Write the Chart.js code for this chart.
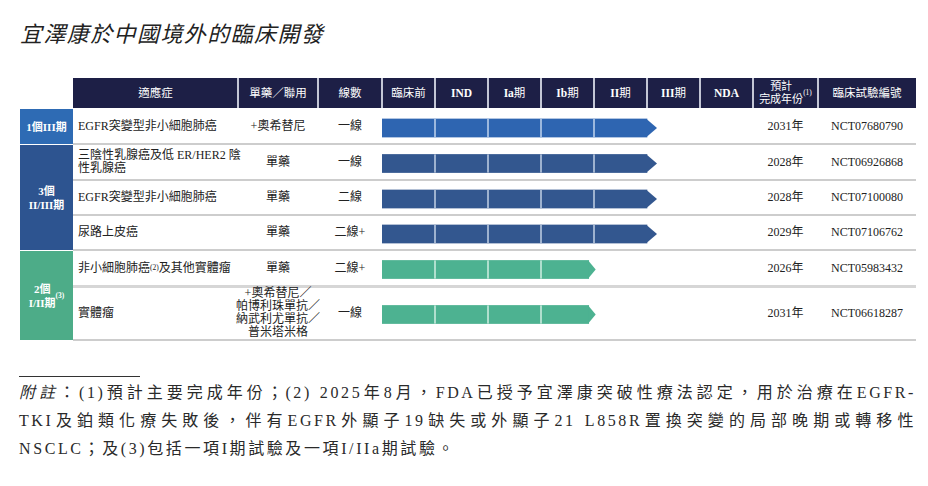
<!DOCTYPE html>
<html>
<head>
<meta charset="utf-8">
<script src="https://cdn.jsdelivr.net/npm/chart.js@4.4.1/dist/chart.umd.min.js"></script>
<style>
html,body{margin:0;padding:0;background:#fff;}
#page{position:relative;width:928px;height:486px;overflow:hidden;font-family:"Liberation Serif","Noto Sans CJK TC",serif;color:#222;}
.abs{position:absolute;}
.cell{position:absolute;display:flex;align-items:center;font-size:12px;line-height:13px;box-sizing:border-box;white-space:nowrap;}
.c{justify-content:center;text-align:center;}
.hd{color:#fff;font-size:11.5px;}
.grp{color:#fff;font-weight:bold;font-size:11px;line-height:14px;}
sup{font-size:7.5px;line-height:0;vertical-align:4px;}
#title{position:absolute;left:20px;top:19px;font-family:"Noto Sans CJK TC",sans-serif;font-style:italic;font-size:22px;line-height:26px;letter-spacing:1.4px;color:#222;white-space:nowrap;}
#foot{position:absolute;left:19px;top:379px;width:897px;font-size:16px;line-height:28px;color:#2a2a2a;letter-spacing:2.6px;}
#foot div{text-align:justify;text-align-last:justify;white-space:nowrap;}
#foot div.last{text-align:left;text-align-last:left;}
</style>
</head>
<body>
<div id="page">
  <div id="title">宜澤康於中國境外的臨床開發</div>
  <div id="table"></div>
  <div id="chartBox" class="abs"><canvas id="c"></canvas></div>
  <div class="abs" style="left:19px;top:376px;width:121px;height:1px;background:#333;"></div>
  <div id="foot">
    <div><i>附註</i>：(1)預計主要完成年份；(2) 2025年8月，FDA已授予宜澤康突破性療法認定，用於治療在EGFR-</div>
    <div>TKI及鉑類化療失敗後，伴有EGFR外顯子19缺失或外顯子21 L858R置換突變的局部晚期或轉移性</div>
    <div class="last">NSCLC；及(3)包括一項I期試驗及一項I/IIa期試驗。</div>
  </div>
</div>
<script>
// ---------- data ----------
const phases = ['臨床前','IND','Ia期','Ib期','II期','III期','NDA'];
const groupLabels = ['1個III期','3個\nII/III期','2個\nI/II期(3)'];
const groupOfRow = [0,1,1,1,2,2];
const indications = ['EGFR突變型非小細胞肺癌','三陰性乳腺癌及低 ER/HER2 陰\n性乳腺癌','EGFR突變型非小細胞肺癌','尿路上皮癌','非小細胞肺癌(2)及其他實體瘤','實體瘤'];
const regimens = ['+奧希替尼','單藥','單藥','單藥','單藥','+奧希替尼／\n帕博利珠單抗／\n納武利尤單抗／\n普米塔米格'];
const therapyLines = ['一線','一線','二線','二線+','二線+','一線'];
const phaseReached = [5,5,5,5,3.9,3.9];
const completionYears = ['2031年','2028年','2028年','2029年','2026年','2031年'];
const trialIds = ['NCT07680790','NCT06926868','NCT07100080','NCT07106762','NCT05983432','NCT06618287'];
const headerLabels = {ind:'適應症', reg:'單藥／聯用', line:'線數', year:'預計\n完成年份(1)', id:'臨床試驗編號'};

// ---------- layout & style ----------
const L = {left:73,right:916,headTop:78,headH:30,bodyTop:109,labelLeft:20,
  rowH:[35,36,35,35,36,54],
  cols:{ind:[73,238],reg:[238,318],line:[318,382],phase:[382,753],year:[753,818],id:[818,916]}};
const headColor = '#1d1f46';
const groupColors = ['#2e6bb4','#2d5490','#4dac88'];
const barColors = ['#2e65b1','#33578f','#4db291'];
const tipLen = [10,10,7];
const sepColors = ['rgba(220,232,248,0.85)','rgba(220,230,245,0.85)','rgba(225,245,236,0.9)'];

const fmt = s => s.replace(/\((\d)\)/g,'<sup>($1)</sup>').replace(/\n/g,'<br>');
const table = document.getElementById('table');
function add(html, cls, left, top, w, h, extra){
  const d=document.createElement('div'); d.className=cls; d.innerHTML=html;
  d.style.cssText=`left:${left}px;top:${top}px;width:${w}px;height:${h}px;`+(extra||'');
  table.appendChild(d); return d;
}
// rows
const rowTops=[]; let acc=0; L.rowH.forEach(h=>{rowTops.push(acc);acc+=h;});
const bodyH=acc;
const rowCenters=rowTops.map((t,i)=>t+L.rowH[i]/2);

// header band
add('','abs',L.left,L.headTop,L.right-L.left,L.headH,`background:${headColor};`);
['ind','reg','line','year','id'].forEach(k=>{
  const [a,b]=L.cols[k];
  add(fmt(headerLabels[k]),'cell c hd',a,L.headTop,b-a,L.headH, k==='year'?'font-size:11px;line-height:13px;':'');
});

// group label cells
groupLabels.forEach((g,gi)=>{
  const rows=groupOfRow.map((v,i)=>v===gi?i:-1).filter(i=>i>=0);
  const top=L.bodyTop+rowTops[rows[0]]+(gi>0?1:0);
  const bot=L.bodyTop+rowTops[rows[rows.length-1]]+L.rowH[rows[rows.length-1]];
  add(fmt(g),'cell c grp',L.labelLeft,top,L.left-L.labelLeft,bot-top,`background:${groupColors[gi]};`);
});

// body cells & separators
indications.forEach((t,i)=>{
  const top=L.bodyTop+rowTops[i], h=L.rowH[i];
  add(fmt(t),'cell',L.cols.ind[0]+5,top,L.cols.ind[1]-L.cols.ind[0]-5,h);
  add(fmt(regimens[i]),'cell c',L.cols.reg[0],top,L.cols.reg[1]-L.cols.reg[0],h, i===5?'line-height:12.8px;':'');
  add(therapyLines[i],'cell c',L.cols.line[0],top,L.cols.line[1]-L.cols.line[0],h);
  add(completionYears[i],'cell c',L.cols.year[0],top,L.cols.year[1]-L.cols.year[0],h);
  add(trialIds[i],'cell c',L.cols.id[0],top,L.cols.id[1]-L.cols.id[0],h);
  const thick = (i===4);
  add('','abs',L.left,top+h-(thick?1.5:1),L.right-L.left,thick?3:1.6,`background:${thick?'#d6d6d6':'#cdcdcd'};`);
});

// ---------- chart ----------
const box=document.getElementById('chartBox');
const pw=L.cols.phase[1]-L.cols.phase[0];
box.style.cssText=`left:${L.cols.phase[0]}px;top:${L.bodyTop}px;width:${pw}px;height:${bodyH}px;`;
const cv=document.getElementById('c');
cv.style.width=pw+'px'; cv.style.height=bodyH+'px'; cv.width=pw; cv.height=bodyH;

const barPlugin={id:'barDeco',afterDatasetsDraw(chart){
  const meta=chart.getDatasetMeta(0), xs=chart.scales.x, c=chart.ctx;
  meta.data.forEach((bar,i)=>{
    const p=bar.getProps(['x','y','base','height'],true);
    const top=p.y-p.height/2, bot=p.y+p.height/2, g=groupOfRow[i];
    c.save();
    c.strokeStyle=sepColors[g]; c.lineWidth=1.5;
    for(let k=1;k<phases.length;k++){
      const px=xs.getPixelForValue(k);
      if(px<p.x-1){c.beginPath();c.moveTo(px,top);c.lineTo(px,bot);c.stroke();}
    }
    c.fillStyle=barColors[g];
    c.beginPath();c.moveTo(p.x-0.5,top);c.lineTo(p.x+tipLen[g],p.y);c.lineTo(p.x-0.5,bot);c.closePath();c.fill();
    c.restore();
  });
}};

const chart=new Chart(cv,{
  type:'bar',
  data:{datasets:[{
    data:phaseReached.map((v,i)=>({x:[0,v],y:rowCenters[i]+1.5})),
    backgroundColor:groupOfRow.map(g=>barColors[g]),
    borderWidth:0,barThickness:18,borderSkipped:false
  }]},
  options:{
    indexAxis:'y',responsive:false,animation:false,devicePixelRatio:2,
    layout:{padding:0},
    plugins:{legend:{display:false},tooltip:{enabled:false}},
    scales:{
      x:{type:'linear',min:0,max:phases.length,display:false,offset:false},
      y:{type:'linear',min:0,max:bodyH,reverse:true,display:false,offset:false}
    }
  },
  plugins:[barPlugin]
});

// phase header labels & header separators placed with the chart's x scale
const xs=chart.scales.x;
phases.forEach((ph,k)=>{
  const a=L.cols.phase[0]+xs.getPixelForValue(k), b=L.cols.phase[0]+xs.getPixelForValue(k+1);
  add(ph.replace(/([A-Za-z]+)/g,'<b>$1</b>'),'cell c hd',a,L.headTop,b-a,L.headH);
});
const seps=[L.cols.reg[0],L.cols.line[0],L.cols.phase[0]];
for(let k=1;k<=phases.length;k++) seps.push(L.cols.phase[0]+xs.getPixelForValue(k));
seps.push(L.cols.id[0]);
seps.forEach(x=>add('','abs',x-1,L.headTop,2,L.headH,'background:rgba(225,228,238,0.85);'));
</script>
</body>
</html>
